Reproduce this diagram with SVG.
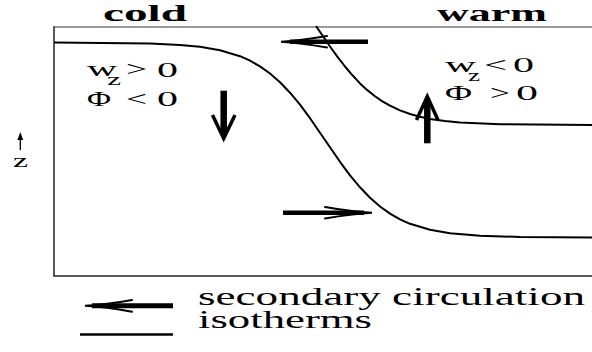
<svg xmlns="http://www.w3.org/2000/svg" width="592" height="352" viewBox="0 0 592 352">
<style>
  text { font-family: "Liberation Serif", "Times New Roman", serif; fill: #000; }
  .hdr { font-size: 23px; font-weight: bold; }
  .math { font-size: 20px; }
  .sub { font-size: 17px; }
  .leg { font-size: 25px; }
  .iso { fill: none; stroke: #000; stroke-width: 2; stroke-linejoin: round; }
  .shaft { stroke: #000; stroke-width: 4.5; fill: none; }
  .barb { stroke: #000; stroke-width: 2; fill: none; stroke-linecap: round; }
  .vshaft { stroke: #000; stroke-width: 6.5; fill: none; }
  .vhead { stroke: #000; stroke-width: 3.5; fill: none; stroke-linejoin: miter; stroke-miterlimit: 10; }
</style>
<rect width="592" height="352" fill="#fff"/>
<g id="frame">
  <line x1="54" y1="27" x2="592" y2="27" stroke="#777" stroke-width="1.5"/>
  <line x1="54" y1="26.3" x2="54" y2="276" stroke="#222" stroke-width="1.5"/>
  <line x1="53.3" y1="276" x2="592" y2="276" stroke="#222" stroke-width="1.5"/>
</g>
<g id="labels">
  <text class="hdr" x="103" y="21" textLength="84" lengthAdjust="spacingAndGlyphs">cold</text>
  <text class="hdr" x="437" y="21" textLength="110" lengthAdjust="spacingAndGlyphs">warm</text>
  <g id="cold-math">
    <text class="math" x="87" y="76" style="font-size:22px" textLength="30" lengthAdjust="spacingAndGlyphs">w</text>
    <text class="sub" x="107" y="85" textLength="14" lengthAdjust="spacingAndGlyphs">z</text>
    <text class="math" x="126" y="76" textLength="21" lengthAdjust="spacingAndGlyphs">&gt;</text>
    <text class="math" x="157" y="77" textLength="21" lengthAdjust="spacingAndGlyphs">0</text>
    <text class="math" x="87" y="106" textLength="24" lengthAdjust="spacingAndGlyphs">Φ</text>
    <text class="math" x="126" y="106" textLength="21" lengthAdjust="spacingAndGlyphs">&lt;</text>
    <text class="math" x="157" y="106" textLength="21" lengthAdjust="spacingAndGlyphs">0</text>
  </g>
  <g id="warm-math">
    <text class="math" x="445" y="72" style="font-size:22px" textLength="31" lengthAdjust="spacingAndGlyphs">w</text>
    <text class="sub" x="468" y="81" textLength="12" lengthAdjust="spacingAndGlyphs">z</text>
    <text class="math" x="484" y="72" textLength="23" lengthAdjust="spacingAndGlyphs">&lt;</text>
    <text class="math" x="513" y="72" textLength="21" lengthAdjust="spacingAndGlyphs">0</text>
    <text class="math" x="445" y="100" textLength="27" lengthAdjust="spacingAndGlyphs">Φ</text>
    <text class="math" x="490" y="100" textLength="20" lengthAdjust="spacingAndGlyphs">&gt;</text>
    <text class="math" x="516" y="100" textLength="22" lengthAdjust="spacingAndGlyphs">0</text>
  </g>
  <g id="z-axis">
    <line x1="20.3" y1="150" x2="20.3" y2="138" stroke="#000" stroke-width="1.3"/>
    <polygon points="20.3,132 17.4,140 23.2,140" fill="#000"/>
    <text x="13" y="167" style="font-size:18px" textLength="15" lengthAdjust="spacingAndGlyphs">z</text>
  </g>
</g>
<g id="isotherms">
  <polyline class="iso" points="54,42.5 150,43.5 180,44.9 200,46.8 220,50.3 240,56.2 250,60.7 260,66.4 270,73.5 280,82.2 290,92.7 300,104.7 310,118.2 325,140 340,161.8 350,175.3 360,187.3 370,197.8 380,206.5 390,213.6 400,219.3 410,223.8 430,229.7 450,233.2 480,235.7 520,237 592,237.5"/>
  <polyline class="iso" points="316,26 330,46.5 337.5,56.8 345,66.5 352,74.8 360,83.4 367,89.9 375,96.3 382,101.1 390,105.7 400,110.4 410,114 420,116.7 430,118.9 445,121 460,122.5 500,124.2 592,125"/>
</g>
<g id="connectors">
  <g id="arrow-top">
    <line class="shaft" x1="368" y1="41.7" x2="290" y2="41.7"/>
    <path class="barb" d="M327,36 Q300,40.6 281,41.7 Q300,42.8 327,47.4"/>
  </g>
  <g id="arrow-bottom">
    <line class="shaft" x1="283" y1="212.7" x2="364" y2="212.7"/>
    <path class="barb" d="M325,206.9 Q352,211.6 372,212.7 Q352,213.8 325,218.4"/>
  </g>
  <g id="arrow-down">
    <line class="vshaft" x1="223.7" y1="90.7" x2="223.7" y2="134"/>
    <polyline class="vhead" points="212.5,115 223.7,138.5 235,115"/>
  </g>
  <g id="arrow-up">
    <line class="vshaft" x1="427.3" y1="143.3" x2="427.3" y2="101"/>
    <polyline class="vhead" points="416.5,120 427.3,96.5 438,120"/>
  </g>
</g>
<g id="legend">
  <line class="shaft" x1="173" y1="305.8" x2="92" y2="305.8" style="stroke-width:5"/>
  <path class="barb" d="M132,300 Q106,304.8 85,305.8 Q106,306.8 132,311.7"/>
  <line x1="80" y1="334.5" x2="173" y2="334.5" stroke="#000" stroke-width="2.5"/>
  <text class="leg" x="198" y="305" textLength="387" lengthAdjust="spacingAndGlyphs">secondary circulation</text>
  <text class="leg" x="198" y="328" textLength="174" lengthAdjust="spacingAndGlyphs">isotherms</text>
</g>
</svg>
